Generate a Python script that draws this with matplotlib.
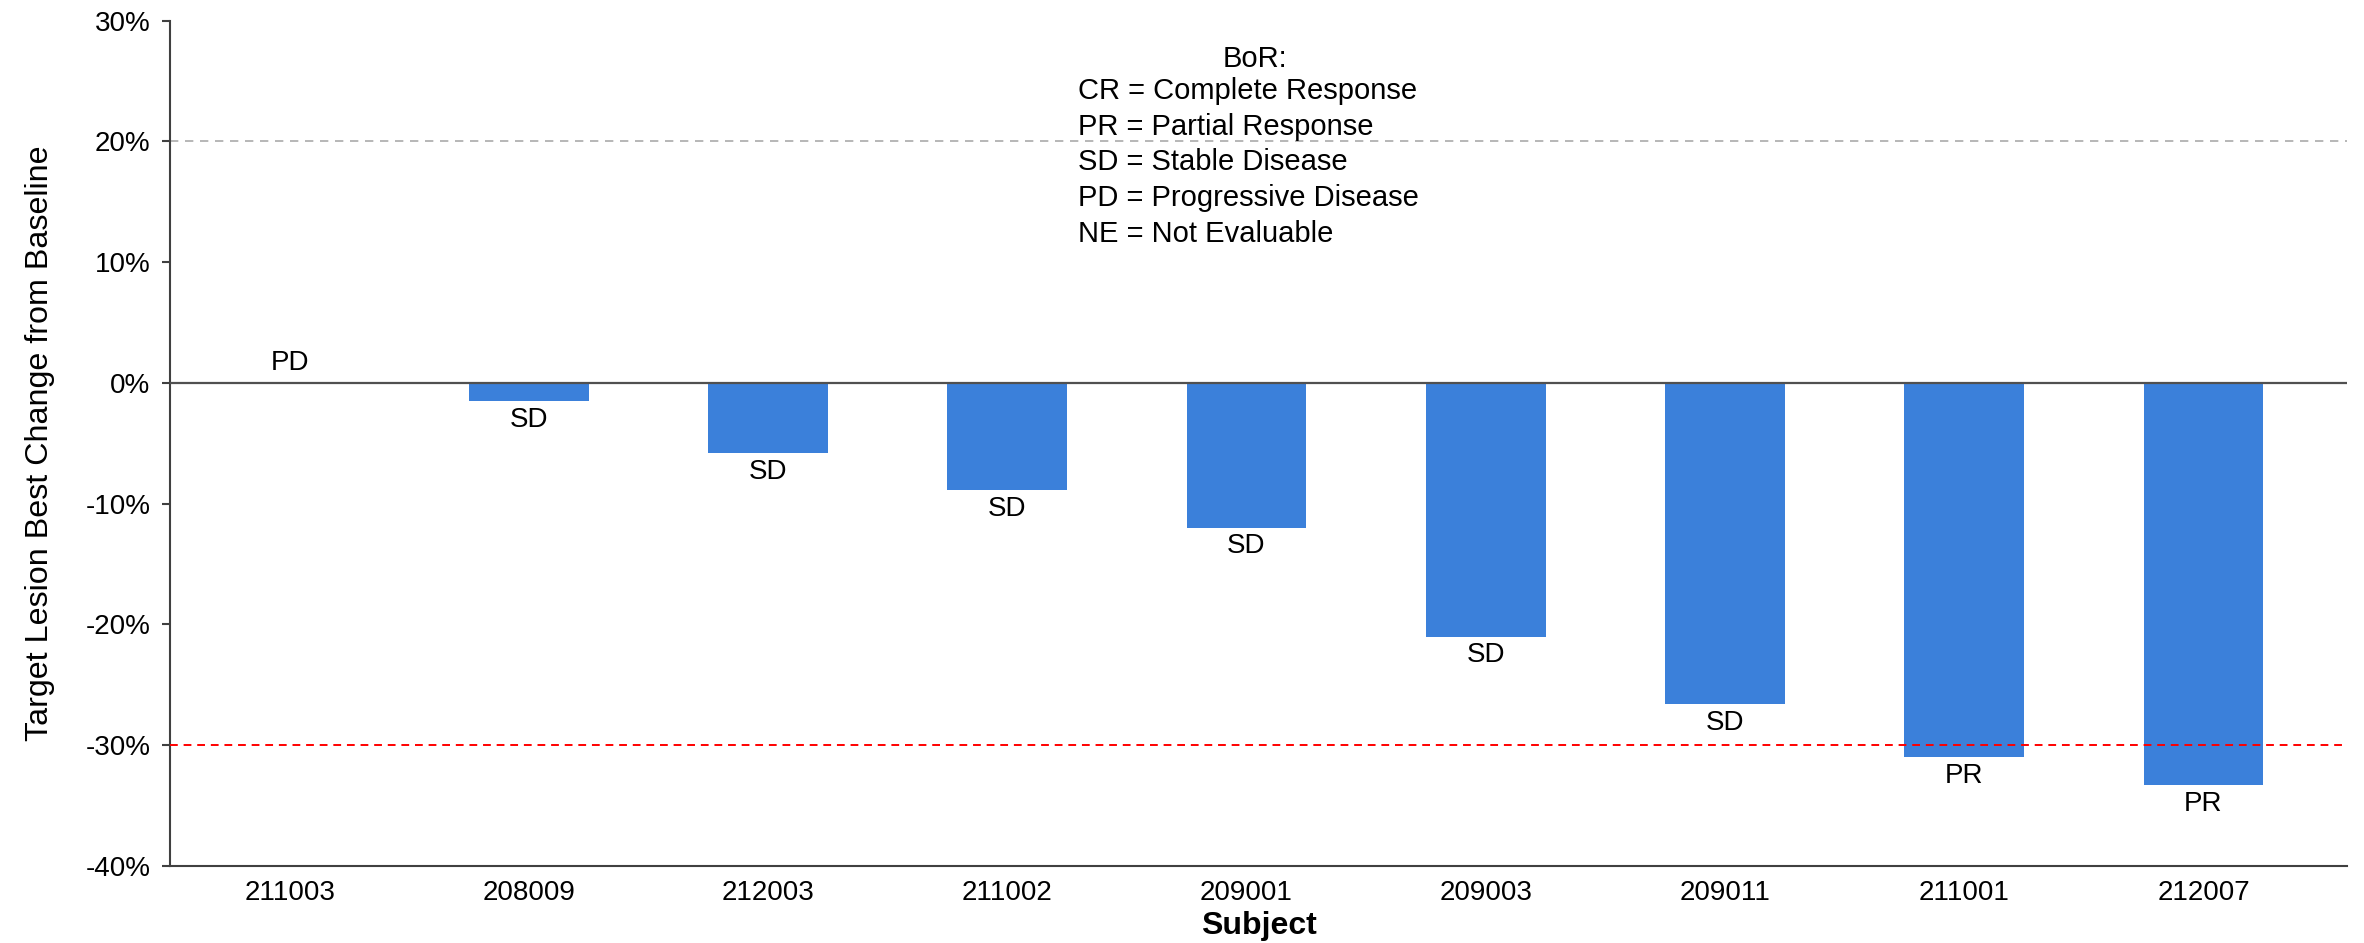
import numpy as np
import matplotlib
matplotlib.use('Agg')
import matplotlib.pyplot as plt
from matplotlib.ticker import FuncFormatter

plt.rcParams['font.family'] = ['Liberation Sans', 'DejaVu Sans']

subjects = ['211003', '208009', '212003', '211002', '209001',
            '209003', '209011', '211001', '212007']
best_change = [0.0, -1.5, -5.8, -8.9, -12.0, -21.0, -26.6, -31.0, -33.3]
responses = ['PD', 'SD', 'SD', 'SD', 'SD', 'SD', 'SD', 'PR', 'PR']
legend_title = 'BoR:'
legend_lines = ['CR = Complete Response', 'PR = Partial Response',
                'SD = Stable Disease', 'PD = Progressive Disease',
                'NE = Not Evaluable']
bar_color = '#3b80da'
axis_color = '#404040'

fig = plt.figure(figsize=(11.82, 4.715), dpi=200)
ax = fig.add_axes([0.0719, 0.0817, 0.9209, 0.8963])

x = np.arange(len(subjects))
ax.bar(x, best_change, width=0.5, color=bar_color, zorder=2)

ax.axhline(0, color='#505050', lw=0.8, zorder=3)
ax.axhline(20, color='#aaaaaa', lw=0.6, ls=(0, (5, 4)), zorder=1)
ax.axhline(-30, color='#ff0000', lw=0.7, ls=(0, (4, 3)), zorder=3)

for xi, v, r in zip(x, best_change, responses):
    if v >= 0:
        ax.annotate(r, (xi, v), xytext=(0, 2.5), textcoords='offset points',
                    ha='center', va='bottom', fontsize=10)
    else:
        ax.annotate(r, (xi, v), xytext=(0, -2), textcoords='offset points',
                    ha='center', va='top', fontsize=10)

ax.set_xlim(-0.5, 8.6)
ax.set_ylim(-40, 30)
ax.set_yticks(np.arange(-40, 31, 10))
ax.yaxis.set_major_formatter(FuncFormatter(lambda v, p: f'{v:.0f}%'))
ax.set_xticks(x)
ax.set_xticklabels(subjects)
ax.tick_params(axis='x', length=0, pad=5, labelsize=10)
ax.tick_params(axis='y', length=3, width=0.75, color=axis_color, pad=4, labelsize=10)

for s in ['top', 'right']:
    ax.spines[s].set_visible(False)
for s in ['left', 'bottom']:
    ax.spines[s].set_color(axis_color)
    ax.spines[s].set_linewidth(0.75)

ax.set_ylabel('Target Lesion Best Change from Baseline', fontsize=11.6, labelpad=11)
ax.set_xlabel('Subject', fontsize=11.5, fontweight='bold', labelpad=2)

# BoR key
ax.text(0.4985, 0.955, legend_title, transform=ax.transAxes,
        ha='center', va='center', fontsize=10.5)
for i, line in enumerate(legend_lines):
    ax.text(0.417, 0.917 - i * 0.0422, line, transform=ax.transAxes,
            ha='left', va='center', fontsize=10.5)

fig.savefig('out.png', dpi=200)
